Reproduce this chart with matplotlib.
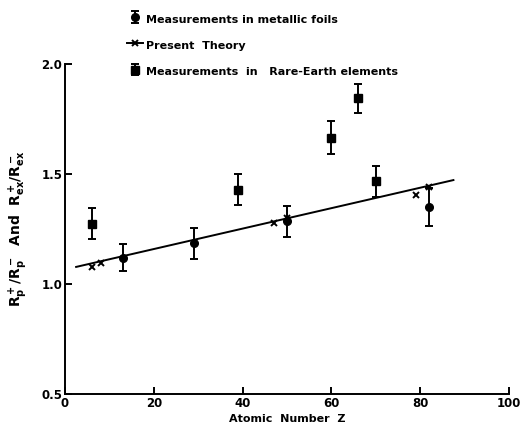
import matplotlib.pyplot as plt

# measurements in metallic foils
FOIL_Z = [13, 29, 50, 82]
FOIL_R = [1.12, 1.185, 1.285, 1.35]
FOIL_ERR = [0.06, 0.07, 0.07, 0.085]

# measurements in rare-earth elements
RARE_Z = [6, 39, 60, 66, 70]
RARE_R = [1.275, 1.43, 1.665, 1.845, 1.468]
RARE_ERR = [0.07, 0.07, 0.075, 0.065, 0.07]

# present theory
THEORY_LINE_Z = [2.5, 87.5]
THEORY_LINE_R = [1.078, 1.473]
THEORY_Z = [6, 8, 47, 50, 79, 82]
THEORY_R = [1.076, 1.095, 1.276, 1.30, 1.403, 1.442]

X_TICKS = [0, 20, 40, 60, 80, 100]
Y_TICKS = [0.5, 1.0, 1.5, 2.0]


def main():
    plt.rcParams['font.family'] = ['DejaVu Sans']
    plt.rcParams['font.weight'] = 'bold'
    fig = plt.figure(figsize=(5.21, 4.30), dpi=100)
    ax = fig.add_axes([0.1248, 0.0837, 0.852, 0.767])

    foils = ax.errorbar(FOIL_Z, FOIL_R, yerr=FOIL_ERR, fmt='o', color='black',
                        markersize=5.5, capsize=3, elinewidth=1.4, capthick=1.4)
    ax.plot(THEORY_LINE_Z, THEORY_LINE_R, color='black', linewidth=1.4)
    ax.plot(THEORY_Z, THEORY_R, 'x', color='black', markersize=4.5, markeredgewidth=1.4)
    theory, = ax.plot([], [], '-x', color='black', linewidth=1.4, markersize=4.5,
                      markeredgewidth=1.4)
    rare = ax.errorbar(RARE_Z, RARE_R, yerr=RARE_ERR, fmt='s', color='black',
                       markersize=6, capsize=3, elinewidth=1.4, capthick=1.4)

    ax.set_xlim(0, 100)
    ax.set_ylim(0.5, 2.0)
    ax.set_xticks(X_TICKS)
    ax.set_yticks(Y_TICKS)
    ax.set_yticklabels(['0.5', '1.0', '1.5', '2.0'])
    ax.spines['top'].set_visible(False)
    ax.spines['right'].set_visible(False)
    ax.spines['left'].set_linewidth(1.4)
    ax.spines['bottom'].set_linewidth(1.4)
    ax.tick_params(direction='in', length=5, width=1.4, labelsize=8.5, pad=2)

    ax.set_xlabel('Atomic  Number  Z', fontsize=8, fontweight='bold', labelpad=3)
    ax.set_ylabel(r'$\mathbf{R_p^+/R_p^-}$  And  $\mathbf{R_{ex}^+/R_{ex}^-}$',
                  fontsize=10, fontweight='bold', labelpad=8)

    fig.legend([foils, theory, rare],
               ['Measurements in metallic foils', 'Present  Theory',
                'Measurements  in   Rare-Earth elements'],
               loc='upper left', bbox_to_anchor=(0.225, 0.997), frameon=False,
               fontsize=8, handlelength=1.4, handleheight=1.8, handletextpad=0.3,
               labelspacing=0.95)

    plt.savefig('out.png', dpi=100)


if __name__ == '__main__':
    main()
